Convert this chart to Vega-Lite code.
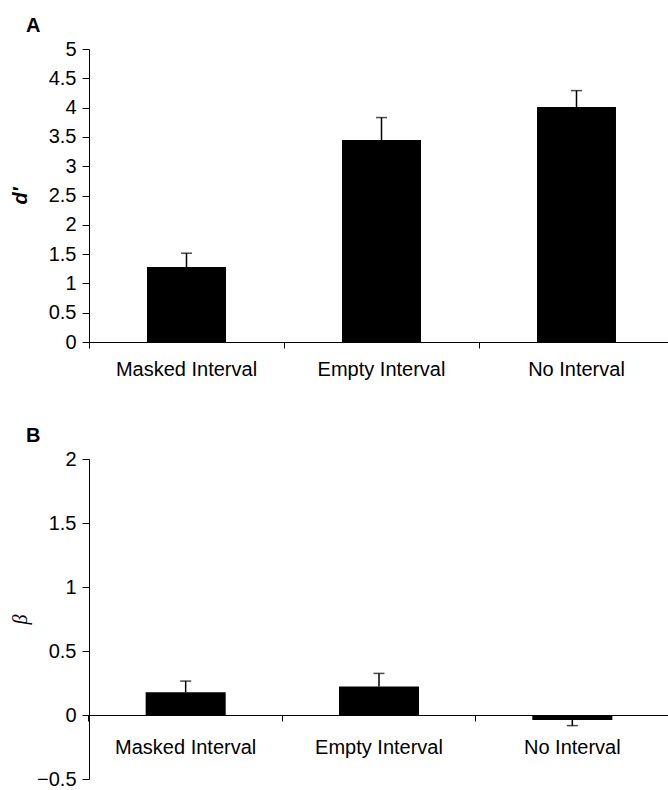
{
  "$schema": "https://vega.github.io/schema/vega-lite/v6.json",
  "background": "white",
  "padding": {"left": 10, "top": 16, "right": 0, "bottom": 0},
  "config": {
    "view": {"stroke": null},
    "concat": {"spacing": 47},
    "axis": {
      "grid": false,
      "domainColor": "black",
      "tickColor": "black",
      "labelColor": "black",
      "titleColor": "black",
      "labelFont": "Liberation Sans",
      "domainWidth": 1,
      "tickWidth": 1,
      "labelOverlap": false
    },
    "axisY": {"labelOverlap": false}
  },
  "datasets": {
    "dA": [
      {"condition": "Masked Interval", "value": 1.28, "err": 1.515},
      {"condition": "Empty Interval", "value": 3.445, "err": 3.83},
      {"condition": "No Interval", "value": 4.01, "err": 4.29}
    ],
    "dB": [
      {"condition": "Masked Interval", "value": 0.177, "err": 0.265},
      {"condition": "Empty Interval", "value": 0.223, "err": 0.325},
      {"condition": "No Interval", "value": -0.039, "err": -0.083}
    ]
  },
  "vconcat": [
    {
      "width": 585,
      "height": 293,
      "title": {"text": "A", "anchor": "start", "dx": 16, "offset": 3, "fontSize": 20, "font": "Liberation Sans", "fontWeight": "bold", "color": "black"},
      "data": {"name": "dA"},
      "encoding": {
        "x": {
          "field": "condition", "type": "nominal", "sort": null,
          "scale": {"paddingInner": 0.595, "paddingOuter": 0.2975},
          "axis": {"title": null, "labelAngle": 0, "bandPosition": -0.734, "tickSize": 6, "labelPadding": 11, "labelFontSize": 20}
        }
      },
      "layer": [
        {
          "mark": {"type": "bar", "color": "black"},
          "encoding": {
            "y": {
              "field": "value", "type": "quantitative", "title": "d′",
              "scale": {"domain": [0, 5], "nice": false},
              "axis": {
                "values": [0, 0.5, 1, 1.5, 2, 2.5, 3, 3.5, 4, 4.5, 5], "format": "~g",
                "labelOverlap": false, "labelSeparation": 0,
                "tickSize": 7, "labelPadding": 6, "labelFontSize": 20,
                "titleX": -59, "titleY": 146.5, "titleFont": "Liberation Sans", "titleFontSize": 20,
                "titleFontWeight": "bold", "titleFontStyle": "italic"
              }
            }
          }
        },
        {
          "mark": {"type": "rule", "color": "black", "strokeWidth": 1.5},
          "encoding": {
            "y": {
              "field": "value", "type": "quantitative", "title": "d′",
              "axis": {
                "values": [0, 0.5, 1, 1.5, 2, 2.5, 3, 3.5, 4, 4.5, 5], "format": "~g",
                "labelOverlap": false, "labelSeparation": 0,
                "tickSize": 7, "labelPadding": 6, "labelFontSize": 20,
                "titleX": -59, "titleY": 146.5, "titleFont": "Liberation Sans", "titleFontSize": 20,
                "titleFontWeight": "bold", "titleFontStyle": "italic"
              }
            },
            "y2": {"field": "err"}
          }
        },
        {
          "mark": {"type": "tick", "color": "black", "thickness": 1.5, "size": 11},
          "encoding": {
            "y": {
              "field": "err", "type": "quantitative", "title": "d′",
              "axis": {
                "values": [0, 0.5, 1, 1.5, 2, 2.5, 3, 3.5, 4, 4.5, 5], "format": "~g",
                "labelOverlap": false, "labelSeparation": 0,
                "tickSize": 7, "labelPadding": 6, "labelFontSize": 20,
                "titleX": -59, "titleY": 146.5, "titleFont": "Liberation Sans", "titleFontSize": 20,
                "titleFontWeight": "bold", "titleFontStyle": "italic"
              }
            }
          }
        }
      ]
    },
    {
      "width": 580,
      "height": 320,
      "title": {"text": "B", "anchor": "start", "dx": 16, "offset": 3, "fontSize": 20, "font": "Liberation Sans", "fontWeight": "bold", "color": "black"},
      "data": {"name": "dB"},
      "encoding": {
        "x": {
          "field": "condition", "type": "nominal", "sort": null,
          "scale": {"paddingInner": 0.586, "paddingOuter": 0.293},
          "axis": {"title": null, "labelAngle": 0, "bandPosition": -0.708, "offset": -64, "tickSize": 6, "labelPadding": 16, "labelFontSize": 20}
        }
      },
      "layer": [
        {
          "mark": {"type": "bar", "color": "black"},
          "encoding": {
            "y": {
              "field": "value", "type": "quantitative", "title": "β",
              "scale": {"domain": [-0.5, 2], "nice": false, "zero": true},
              "axis": {
                "values": [-0.5, 0, 0.5, 1, 1.5, 2], "format": "~g",
                "labelOverlap": false,
                "tickSize": 7, "labelPadding": 6, "labelFontSize": 20,
                "titleX": -59, "titleY": 160, "titleFont": "Liberation Serif", "titleFontSize": 20,
                "titleFontWeight": "normal", "titleFontStyle": "italic"
              }
            }
          }
        },
        {
          "mark": {"type": "rule", "color": "black", "strokeWidth": 1.5},
          "encoding": {
            "y": {"field": "value", "type": "quantitative", "title": "β"},
            "y2": {"field": "err"}
          }
        },
        {
          "mark": {"type": "tick", "color": "black", "thickness": 1.5, "size": 11},
          "encoding": {
            "y": {"field": "err", "type": "quantitative", "title": "β"}
          }
        }
      ]
    }
  ]
}
